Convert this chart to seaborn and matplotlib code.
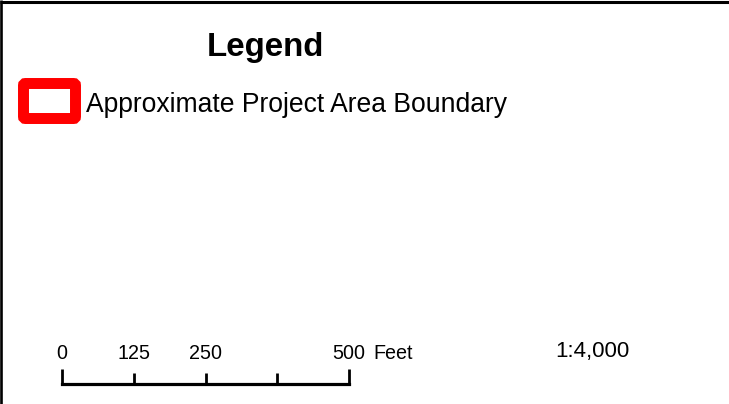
import matplotlib
matplotlib.use("Agg")
import matplotlib.pyplot as plt
import matplotlib.transforms as mtransforms
import seaborn as sns
import pandas as pd
from matplotlib.patches import FancyBboxPatch

sns.set_theme(style="white")
plt.rcParams['font.family'] = ['Liberation Sans', 'DejaVu Sans']

# ---- content ----
title = "Legend"
legend_label = "Approximate Project Area Boundary"
scale_ticks = [0, 125, 250, 375, 500]
scale_labels = ["0", "125", "250", "", "500"]
scale_unit = "Feet"
scale_ratio = "1:4,000"

W, H = 729, 404
fig = plt.figure(figsize=(W / 100, H / 100), dpi=100)
fig.patch.set_facecolor("white")
ax = fig.add_axes([0, 0, 1, 1])
ax.set_xlim(0, W)
ax.set_ylim(H, 0)
ax.axis("off")

# frame (top and left edges visible)
ax.plot([0, W], [1.5, 1.5], color="black", lw=2.2, solid_capstyle="butt")
ax.plot([1.2, 1.2], [0, H], color="black", lw=1.9, solid_capstyle="butt")

# title
ax.text(265.5, 56, title, ha="center", va="baseline", fontsize=23.8, fontweight="bold", color="black")

# legend patch
patch = FancyBboxPatch((23.5, 83.5), 52, 35, boxstyle="round,pad=0,rounding_size=2",
                       facecolor="white", edgecolor="#ff0000", linewidth=7.9)
ax.add_patch(patch)
ax.text(86, 112, legend_label, ha="left", va="baseline", fontsize=19.1, color="black")

# scale ratio
ax.text(592, 357, scale_ratio, ha="center", va="baseline", fontsize=16, color="black")

# scale bar axes in feet
sax = fig.add_axes([62 / W, (H - 384) / H, 287 / W, 15 / H])
sax.set_xlim(0, 500)
sax.set_ylim(0, 1)
sax.axis("off")
bar = pd.DataFrame({"feet": [scale_ticks[0], scale_ticks[-1]], "y": [0, 0]})
sns.lineplot(data=bar, x="feet", y="y", ax=sax, color="black", lw=2.3, legend=False)
sax.lines[-1].set_solid_capstyle("projecting")
sax.lines[-1].set_clip_on(False)
for i, t in enumerate(scale_ticks):
    top = 1.0 if i in (0, len(scale_ticks) - 1) else 0.75
    sax.plot([t, t], [0, top], color="black", lw=2.0, clip_on=False, solid_capstyle="butt")
base = mtransforms.blended_transform_factory(sax.transData, ax.transData)
for t, lab in zip(scale_ticks, scale_labels):
    if lab:
        ax.text(t, 359, lab, ha="center", va="baseline", fontsize=14.2, color="black",
                transform=base, clip_on=False)
off = mtransforms.offset_copy(base, fig=fig, x=24, y=0, units="dots")
ax.text(500, 359, scale_unit, ha="left", va="baseline", fontsize=14.2, color="black",
        transform=off, clip_on=False)

fig.savefig("out.png", dpi=100, facecolor="white")
